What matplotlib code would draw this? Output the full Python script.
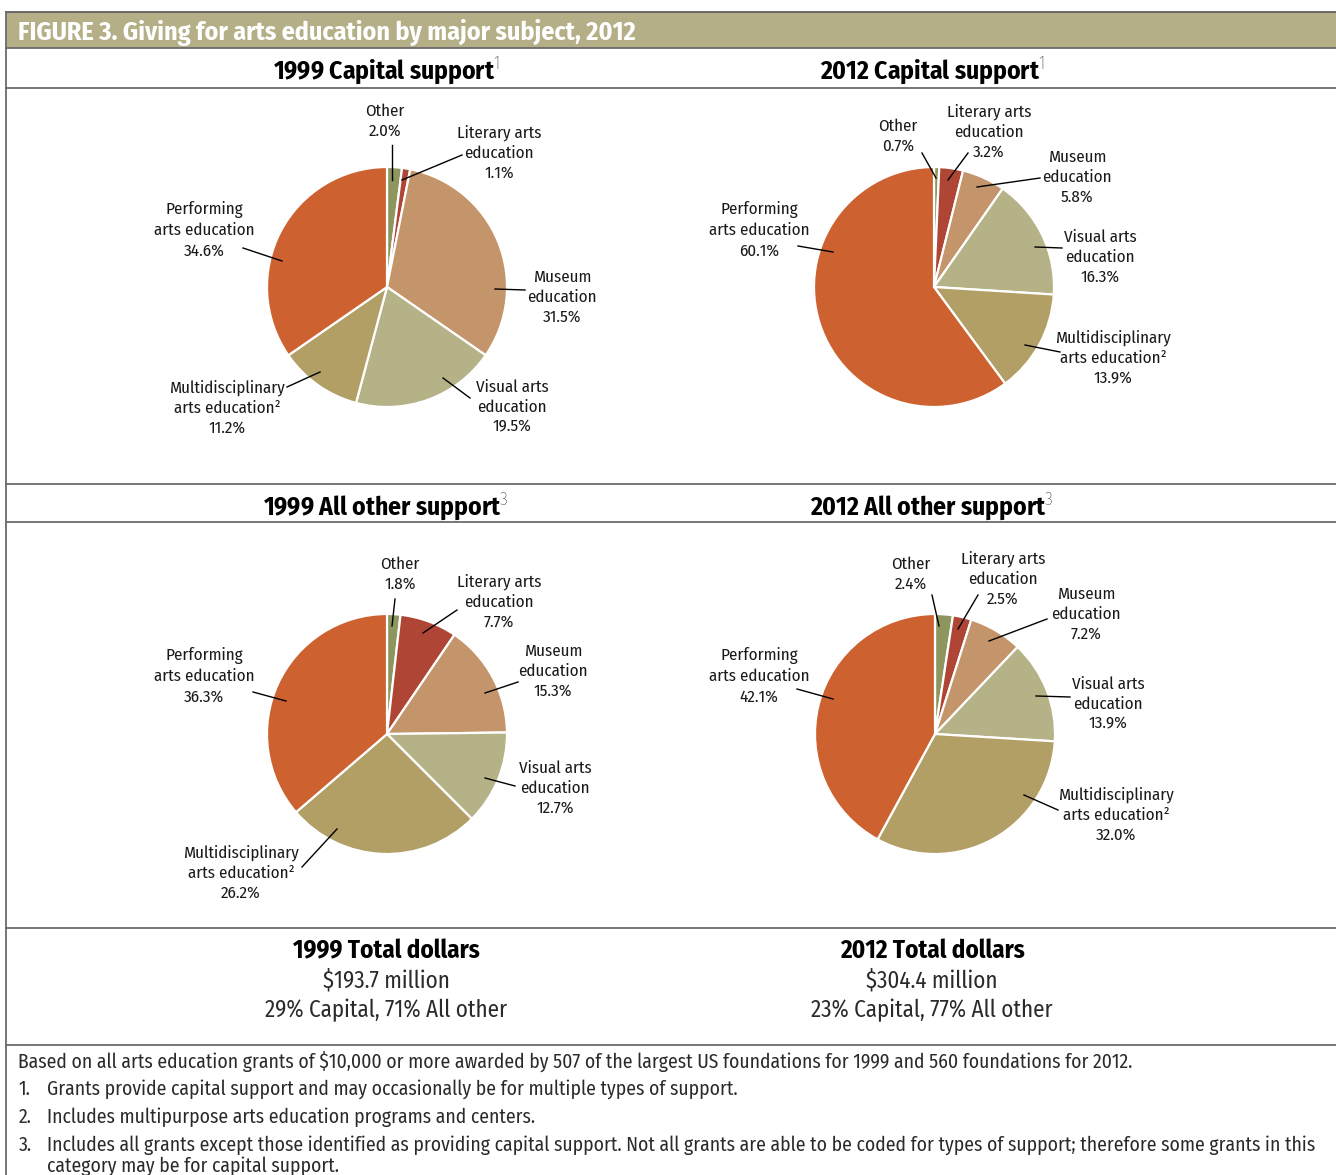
import matplotlib
matplotlib.use('Agg')
import matplotlib.pyplot as plt

# fonte condensada parecida com a Frutiger do relatório
FONT = ['Fira Sans Condensed', 'DejaVu Sans']
plt.rcParams['font.family'] = FONT
plt.rcParams['mathtext.fontset'] = 'custom'
plt.rcParams['mathtext.rm'] = 'Fira Sans Condensed:light'
plt.rcParams['mathtext.default'] = 'rm'

W, H = 1336, 1175

categories = ['Other', 'Literary arts\neducation', 'Museum\neducation',
              'Visual arts\neducation', 'Multidisciplinary\narts education\u00b2',
              'Performing\narts education']
colors = ['#8c965e', '#ae4535', '#c4946a', '#b5b287', '#b29f66', '#cd6130']

capital_1999 = [2.0, 1.1, 31.5, 19.5, 11.2, 34.6]
capital_2012 = [0.7, 3.2, 5.8, 16.3, 13.9, 60.1]
other_1999 = [1.8, 7.7, 15.3, 12.7, 26.2, 36.3]
other_2012 = [2.4, 2.5, 7.2, 13.9, 32.0, 42.1]

titles = ['1999 Capital support', '2012 Capital support',
          '1999 All other support', '2012 All other support']
title_marks = ['1', '1', '3', '3']

totals_years = ['1999', '2012']
totals_amount = ['$193.7 million', '$304.4 million']
totals_split = ['29% Capital, 71% All other', '23% Capital, 77% All other']

note_intro = 'Based on all arts education grants of $10,000 or more awarded by 507 of the largest US foundations for 1999 and 560 foundations for 2012.'
note_nums = ['1.', '2.', '3.']
note_texts = [
    'Grants provide capital support and may occasionally be for multiple types of support.',
    'Includes multipurpose arts education programs and centers.',
    'Includes all grants except those identified as providing capital support. Not all grants are able to be coded for types of support; therefore some grants in this',
]
note_cont = 'category may be for capital support.'

# layout (pixels): centro da pizza, posição dos rótulos e das linhas guia
R = 120
pies = [
    (capital_1999, (387, 287),
     [(385, 121), (499, 153), (562, 297), (512, 407), (227, 408), (204, 230)],
     [((392, 145), (392, 180)), ((462, 155), (402, 180)), ((525, 290), (495, 289)),
      ((470, 398), (443, 378)), ((287, 387), (320, 372)), ((243, 248), (282, 261))]),
    (capital_2012, (934, 287),
     [(898, 136), (989, 132), (1077, 177), (1100, 257), (1113, 358), (759, 230)],
     [((922, 153), (936, 178)), ((968, 153), (948, 180)), ((1040, 178), (977, 187)),
      ((1062, 248), (1035, 247)), ((1060, 352), (1025, 345)), ((798, 246), (833, 252))]),
    (other_1999, (387, 734),
     [(400, 574), (499, 602), (553, 671), (555, 788), (241, 873), (204, 676)],
     [((395, 599), (392, 626)), ((457, 610), (423, 633)), ((518, 682), (485, 693)),
      ((515, 786), (485, 778)), ((302, 867), (337, 829)), ((253, 692), (286, 701))]),
    (other_2012, (935, 734),
     [(911, 574), (1003, 579), (1086, 614), (1108, 704), (1116, 815), (759, 676)],
     [((932, 595), (939, 626)), ((978, 595), (958, 629)), ((1047, 619), (989, 641)),
      ((1070, 697), (1036, 696)), ((1058, 810), (1024, 795)), ((797, 689), (833, 699))]),
]

fig = plt.figure(figsize=(W / 100, H / 100), dpi=100)
fig.patch.set_facecolor('white')
renderer = fig.canvas.get_renderer()


def fit_size(s, width_px, **kw):
    """Tamanho de fonte para que o texto ocupe width_px pixels."""
    t = fig.text(0, 0, s, fontsize=20, **kw)
    w = t.get_window_extent(renderer).width
    t.remove()
    return 20 * width_px / w


size_label = fit_size('Multidisciplinary', 116)
size_head = fit_size('FIGURE 3. Giving for arts education by major subject, 2012', 620, fontweight='bold')
size_title = fit_size('1999 Capital support', 221, fontweight='bold')
size_tot = fit_size('1999 Total dollars', 187, fontweight='bold')
size_amt = fit_size('29% Capital, 71% All other', 242)
size_note = fit_size(note_intro, 1112)

half = 170
for values, (cx, cy), _, _ in pies:
    ax = fig.add_axes([(cx - half) / W, 1 - (cy + half) / H, 2 * half / W, 2 * half / H])
    ax.pie(values, colors=colors, startangle=90, counterclock=False, radius=1,
           wedgeprops={'edgecolor': 'white', 'linewidth': 1.6})
    ax.set_xlim(-half / R, half / R)
    ax.set_ylim(-half / R, half / R)
    ax.set_aspect('equal')
    ax.axis('off')

# camada por cima, em coordenadas de pixel
ov = fig.add_axes([0, 0, 1, 1], zorder=10)
ov.set_xlim(0, W)
ov.set_ylim(H, 0)
ov.axis('off')
ov.patch.set_alpha(0)

# cabeçalho
ov.fill_between([6, W], 12, 48, color='#b4af86', lw=0)
ov.plot([6, W], [12, 12], color='#555555', lw=1.2)
ov.text(18, 32, 'FIGURE 3. Giving for arts education by major subject, 2012',
        color='white', fontsize=size_head, fontweight='bold', va='center', ha='left')

for y in [48, 88, 484, 522, 928, 1045]:
    ov.plot([6, W], [y, y], color='#6b6b6b', lw=1.3)
ov.plot([6, 6], [12, H], color='#6b6b6b', lw=1.3)

title_pos = [(386, 71), (932, 71), (386, 507), (932, 507)]
for t, m, (x, y) in zip(titles, title_marks, title_pos):
    ov.text(x, y, t + '$^{' + m + '}$', fontsize=size_title, fontweight='bold',
            ha='center', va='center', color='black')

for values, (cx, cy), label_xy, lines in pies:
    for cat, v, (tx, ty) in zip(categories, values, label_xy):
        ov.text(tx, ty, f'{cat}\n{v:.1f}%', fontsize=size_label, ha='center', va='center',
                linespacing=1.33, color='#1a1a1a')
    for (x0, y0), (x1, y1) in lines:
        ov.plot([x0, x1], [y0, y1], color='black', lw=1.0)

# totais
for i, x in enumerate([386, 932]):
    ov.text(x, 951, f'{totals_years[i]} Total dollars', fontsize=size_tot, fontweight='bold',
            ha='center', va='center')
    ov.text(x, 981, totals_amount[i], fontsize=size_amt,
            ha='center', va='center', color='#2a2a2a')
    ov.text(x, 1010, totals_split[i], fontsize=size_amt,
            ha='center', va='center', color='#2a2a2a')

# notas
ov.text(18, 1061, note_intro, fontsize=size_note, ha='left', va='center', color='#2a2a2a')
for num, txt, y in zip(note_nums, note_texts, [1089, 1117, 1145]):
    ov.text(19, y, num, fontsize=size_note, ha='left', va='center', color='#2a2a2a')
    ov.text(47, y, txt, fontsize=size_note, ha='left', va='center', color='#2a2a2a')
ov.text(47, 1166, note_cont, fontsize=size_note, ha='left', va='center', color='#2a2a2a')

fig.savefig('out.png', dpi=100)
